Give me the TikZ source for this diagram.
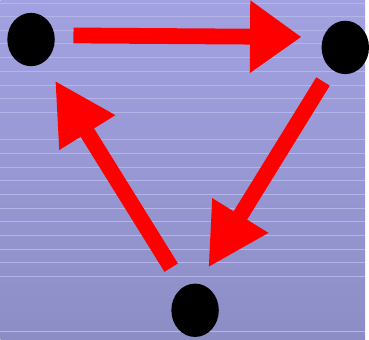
\documentclass[tikz,border=0pt]{standalone}
\usetikzlibrary{arrows.meta,shapes.geometric}
\definecolor{bgtop}{RGB}{162,162,226}
\definecolor{bgbot}{RGB}{141,141,198}
\definecolor{stripe}{RGB}{180,180,232}

\begin{document}
\begin{tikzpicture}[x=0.03cm,y=-0.03cm,
 dot/.style={ellipse,fill=black,inner sep=0pt,
 minimum width=1.44cm,minimum height=1.62cm},
 arr/.style={red,line width=0.48cm,
 -{Triangle[length=1.86cm,width=1.86cm]}},
 stripeline/.style={stripe,line width=0.025cm}]
\shade[top color=bgtop,bottom color=bgbot] (0,0) rectangle (369,344);
\foreach \y in {3,17,31,44,58,72,86,100,114,141,155,169,183,197,211,224,238,252,266,280,335}
 \draw[stripeline] (0,\y)--(369,\y);
\node[dot] (left) at (31,40) {};
\node[dot] (right) at (349,48) {};
\node[dot] (bottom) at (197,314) {};
\draw[arr,-{Triangle[length=1.56cm,width=2.1cm]},
 shorten <=0.57cm,shorten >=0.66cm] (left.10)--(right.155);
\draw[arr,shorten <=0.45cm,shorten >=0.57cm] (right.236)--(bottom.83);
\draw[arr,shorten <=0.69cm,shorten >=0.65cm] (bottom.117)--(left.299);
\end{tikzpicture}
\end{document}
